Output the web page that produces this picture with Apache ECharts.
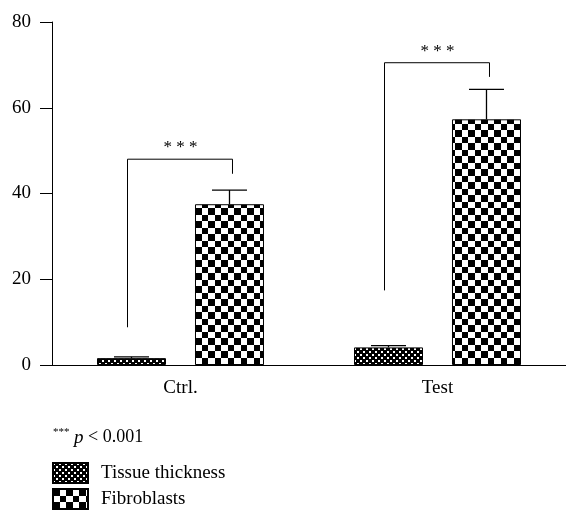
<!DOCTYPE html>
<html>
<head>
<meta charset="utf-8">
<style>
html,body{margin:0;padding:0;background:#fff;}
#chart{width:566px;height:511px;}
</style>
<script src="https://cdn.jsdelivr.net/npm/echarts@6/dist/echarts.min.js"></script>
</head>
<body>
<div id="chart"></div>
<script>
// ---- data ----
const categories = ['Ctrl.', 'Test'];
const seriesNames = ['Tissue thickness', 'Fibroblasts'];
const tissueValues = [1.6, 4.1];
const tissueErrTop = [1.9, 4.5];
const fibroValues = [37.5, 57.3];
const fibroErrTop = [40.8, 64.3];
// significance brackets: [left leg bottom, bracket top, right leg bottom]
const bracketLeftLow = [8.8, 17.4];
const bracketTop = [48, 70.5];
const bracketRightLow = [44.6, 67.2];
const sigLabel = '* * *';
const yTicks = [0, 20, 40, 60, 80];

// ---- styles ----
const FONT = 'Liberation Serif';
const BAR_W = 69;
const GAP_RATIO = 0.42;
const CAP_W = 35;

function makePattern(size, draw) {
  const c = document.createElement('canvas');
  c.width = size; c.height = size;
  const ctx = c.getContext('2d');
  draw(ctx);
  return { image: c, repeat: 'repeat' };
}
const tissuePattern = makePattern(6, ctx => {
  ctx.fillStyle = '#000'; ctx.fillRect(0, 0, 6, 6);
  ctx.fillStyle = '#fff';
  ctx.fillRect(0, 0, 2, 2); ctx.fillRect(3, 3, 2, 2);
});
const fibroPattern = makePattern(13, ctx => {
  ctx.fillStyle = '#fff'; ctx.fillRect(0, 0, 13, 13);
  ctx.fillStyle = '#000';
  ctx.fillRect(0, 0, 7, 7); ctx.fillRect(7, 7, 6, 6);
});

const off = (BAR_W + BAR_W * GAP_RATIO) / 2;

const errData = [];
categories.forEach((c, i) => {
  errData.push([i, tissueValues[i], tissueErrTop[i], -1]);
  errData.push([i, fibroValues[i], fibroErrTop[i], 1]);
});
const bracketData = categories.map((c, i) => [i, bracketLeftLow[i], bracketTop[i], bracketRightLow[i]]);

const legendBase = {
  orient: 'vertical', left: 52, padding: 0,
  itemWidth: 35, itemHeight: 20,
  icon: 'rect',
  textStyle: { fontFamily: FONT, fontSize: 19, color: '#000', padding: [0, 0, 0, 8] }
};

const chart = echarts.init(document.getElementById('chart'), null, { renderer: 'canvas' });
chart.setOption({
  animation: false,
  backgroundColor: '#fff',
  textStyle: { fontFamily: FONT },
  title: {
    text: '{s|***} {p|p} < 0.001',
    left: 53, top: 427, padding: 0,
    textStyle: {
      fontFamily: FONT, fontSize: 18, fontWeight: 'normal', color: '#000',
      rich: {
        s: { fontFamily: FONT, fontSize: 11, color: '#000', verticalAlign: 'top', padding: [0, 0, 10, 0] },
        p: { fontFamily: FONT, fontSize: 19, fontStyle: 'italic', color: '#000' }
      }
    }
  },
  legend: [
    Object.assign({}, legendBase, { top: 462, data: [seriesNames[0]] }),
    Object.assign({}, legendBase, { top: 488, data: [seriesNames[1]] })
  ],
  grid: { left: 52, top: 22, width: 520, height: 343 },
  xAxis: {
    type: 'category', data: categories, boundaryGap: true,
    axisLine: { lineStyle: { color: '#000', width: 1 } },
    axisTick: { alignWithLabel: true, length: 10, lineStyle: { color: '#000' } },
    axisLabel: { color: '#000', fontFamily: FONT, fontSize: 19, margin: 14 }
  },
  yAxis: {
    type: 'value', min: yTicks[0], max: yTicks[yTicks.length - 1], interval: 20,
    axisLine: { show: true, lineStyle: { color: '#000', width: 1 } },
    axisTick: { show: true, length: 12, lineStyle: { color: '#000' } },
    axisLabel: { color: '#000', fontFamily: FONT, fontSize: 19, margin: 21 },
    splitLine: { show: false }
  },
  series: [
    {
      name: seriesNames[0], type: 'bar', data: tissueValues,
      barWidth: BAR_W, barGap: (GAP_RATIO * 100) + '%',
      itemStyle: { color: tissuePattern, borderColor: '#000', borderWidth: 1 }
    },
    {
      name: seriesNames[1], type: 'bar', data: fibroValues,
      barWidth: BAR_W, barGap: (GAP_RATIO * 100) + '%',
      itemStyle: { color: fibroPattern, borderColor: '#000', borderWidth: 1 }
    },
    {
      type: 'custom', z: 5, clip: false, silent: true,
      data: errData,
      encode: { x: 0, y: 1 },
      renderItem: function (params, api) {
        const side = api.value(3);
        const p0 = api.coord([api.value(0), api.value(1)]);
        const p1 = api.coord([api.value(0), api.value(2)]);
        const x = p0[0] + side * off;
        const st = { stroke: '#000', lineWidth: 1.3 };
        return {
          type: 'group', children: [
            { type: 'line', shape: { x1: x, y1: p0[1], x2: x, y2: p1[1] }, style: st },
            { type: 'line', shape: { x1: x - CAP_W / 2, y1: p1[1], x2: x + CAP_W / 2, y2: p1[1] }, style: st }
          ]
        };
      }
    },
    {
      type: 'custom', z: 5, clip: false, silent: true,
      data: bracketData,
      encode: { x: 0, y: 2 },
      renderItem: function (params, api) {
        const i = api.value(0);
        const a = api.coord([i, api.value(1)]);
        const t = api.coord([i, api.value(2)]);
        const b = api.coord([i, api.value(3)]);
        const xl = t[0] - off - 4;
        const xr = t[0] + off + 3;
        return {
          type: 'group', children: [
            { type: 'polyline', shape: { points: [[xl, a[1]], [xl, t[1]], [xr, t[1]], [xr, b[1]]] },
              style: { stroke: '#000', lineWidth: 1, fill: null } },
            { type: 'text', x: t[0], y: t[1] - 3,
              style: { text: sigLabel, fontFamily: FONT, fontSize: 17, fill: '#000', align: 'center', verticalAlign: 'bottom' } }
          ]
        };
      }
    }
  ]
});
</script>
</body>
</html>
